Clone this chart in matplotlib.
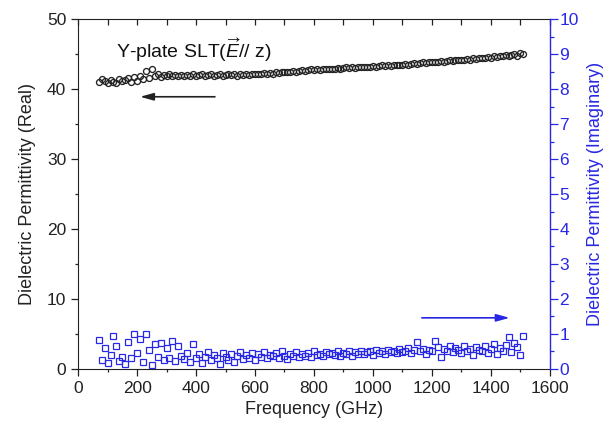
import matplotlib
matplotlib.use("Agg")
import matplotlib.pyplot as plt
from matplotlib.ticker import MultipleLocator

plt.rcParams["font.family"] = ["Liberation Sans", "DejaVu Sans"]
plt.rcParams["mathtext.fontset"] = "custom"
plt.rcParams["mathtext.rm"] = "Liberation Sans"
plt.rcParams["mathtext.it"] = "Liberation Sans:italic"

BLUE = "#2828e4"
DARK = "#222222"

# frequency grid (GHz)
freq = [70, 80, 90, 100, 110, 120, 130, 140, 150, 160,
        170, 180, 190, 200, 210, 220, 230, 240, 250, 260,
        270, 280, 290, 300, 310, 320, 330, 340, 350, 360,
        370, 380, 390, 400, 410, 420, 430, 440, 450, 460,
        470, 480, 490, 500, 510, 520, 530, 540, 550, 560,
        570, 580, 590, 600, 610, 620, 630, 640, 650, 660,
        670, 680, 690, 700, 710, 720, 730, 740, 750, 760,
        770, 780, 790, 800, 810, 820, 830, 840, 850, 860,
        870, 880, 890, 900, 910, 920, 930, 940, 950, 960,
        970, 980, 990, 1000, 1010, 1020, 1030, 1040, 1050, 1060,
        1070, 1080, 1090, 1100, 1110, 1120, 1130, 1140, 1150, 1160,
        1170, 1180, 1190, 1200, 1210, 1220, 1230, 1240, 1250, 1260,
        1270, 1280, 1290, 1300, 1310, 1320, 1330, 1340, 1350, 1360,
        1370, 1380, 1390, 1400, 1410, 1420, 1430, 1440, 1450, 1460,
        1470, 1480, 1490, 1500, 1510]

# real part (left axis)
eps_real = [41.0, 41.5, 41.1, 40.8, 41.3, 41.0, 40.9, 41.4, 41.1, 41.3,
            41.6, 41.0, 41.7, 41.2, 41.9, 41.4, 42.6, 41.6, 42.8, 41.8,
            42.2, 41.7, 42.0, 41.8, 42.1, 41.9, 42.0, 41.8, 42.0, 41.9,
            42.0, 41.9, 42.1, 41.9, 42.0, 42.1, 41.9, 42.0, 42.1, 41.9,
            42.0, 42.1, 41.9, 42.0, 42.1, 42.0, 42.1, 41.9, 42.1, 42.0,
            42.1, 42.0, 42.2, 42.1, 42.2, 42.1, 42.3, 42.2, 42.3, 42.2,
            42.4, 42.3, 42.4, 42.5, 42.4, 42.5, 42.6, 42.5, 42.6, 42.7,
            42.6, 42.7, 42.8, 42.7, 42.8, 42.7, 42.9, 42.8, 42.9, 42.8,
            42.9, 43.0, 42.9, 43.0, 43.1, 43.0, 43.1, 43.0, 43.2, 43.1,
            43.2, 43.1, 43.2, 43.3, 43.2, 43.3, 43.4, 43.3, 43.4, 43.3,
            43.4, 43.5, 43.4, 43.5, 43.6, 43.5, 43.6, 43.7, 43.6, 43.7,
            43.8, 43.7, 43.8, 43.9, 43.8, 43.9, 44.0, 43.9, 44.0, 44.1,
            44.0, 44.1, 44.2, 44.1, 44.2, 44.3, 44.2, 44.4, 44.3, 44.4,
            44.5, 44.4, 44.6, 44.5, 44.7, 44.6, 44.8, 44.7, 44.9, 44.8,
            44.9, 45.0, 44.8, 45.1, 45.0]

# imaginary part (right axis)
eps_imag = [0.83, 0.26, 0.60, 0.17, 0.40, 0.94, 0.66, 0.22, 0.35, 0.14,
            0.78, 0.30, 1.00, 0.45, 0.85, 0.20, 1.00, 0.55, 0.12, 0.70,
            0.35, 0.75, 0.25, 0.60, 0.30, 0.80, 0.22, 0.65, 0.38, 0.28,
            0.45, 0.20, 0.70, 0.30, 0.42, 0.18, 0.35, 0.48, 0.25, 0.40,
            0.30, 0.15, 0.45, 0.35, 0.25, 0.42, 0.20, 0.38, 0.48, 0.28,
            0.40, 0.30, 0.45, 0.25, 0.42, 0.35, 0.48, 0.30, 0.40, 0.36,
            0.45, 0.32, 0.50, 0.38, 0.28, 0.44, 0.36, 0.48, 0.33, 0.42,
            0.38, 0.46, 0.34, 0.50, 0.40, 0.44, 0.36, 0.48, 0.42, 0.45,
            0.40, 0.50, 0.38, 0.46, 0.42, 0.52, 0.36, 0.47, 0.44, 0.50,
            0.42, 0.48, 0.52, 0.40, 0.55, 0.46, 0.50, 0.44, 0.53, 0.48,
            0.50, 0.45, 0.56, 0.48, 0.52, 0.60, 0.46, 0.55, 0.78, 0.50,
            0.58, 0.44, 0.55, 0.50, 0.80, 0.62, 0.35, 0.56, 0.52, 0.66,
            0.48, 0.60, 0.55, 0.45, 0.65, 0.52, 0.58, 0.40, 0.62, 0.55,
            0.50, 0.66, 0.45, 0.58, 0.70, 0.42, 0.60, 0.52, 0.68, 0.90,
            0.48, 0.75, 0.62, 0.40, 0.95]

fig = plt.figure(figsize=(6.15, 4.25), dpi=100)
ax = fig.add_axes([0.127, 0.132, 0.767, 0.823])
ax2 = ax.twinx()

ax.plot(freq, eps_real, linestyle="none", marker="o", markersize=4.3,
        markerfacecolor="none", markeredgecolor=DARK, markeredgewidth=0.95)
ax2.plot(freq, eps_imag, linestyle="none", marker="s", markersize=4.3,
         markerfacecolor="none", markeredgecolor=BLUE, markeredgewidth=0.9)

ax.set_xlim(0, 1600)
ax.set_ylim(0, 50)
ax2.set_ylim(0, 10)

ax.xaxis.set_major_locator(MultipleLocator(200))
ax.xaxis.set_minor_locator(MultipleLocator(100))
ax.yaxis.set_major_locator(MultipleLocator(10))
ax.yaxis.set_minor_locator(MultipleLocator(5))
ax2.yaxis.set_major_locator(MultipleLocator(1))
ax2.yaxis.set_minor_locator(MultipleLocator(0.5))

ax.tick_params(which="both", direction="out", labelsize=12.5, colors=DARK, width=0.9)
ax.tick_params(which="major", length=5)
ax.tick_params(which="minor", length=2.5)
ax2.tick_params(which="both", direction="out", labelsize=12.5, colors=BLUE, width=0.9)
ax2.tick_params(which="major", length=6, pad=1)
ax2.tick_params(which="minor", length=3)

# top axis: inward ticks every 100 GHz
top = ax.secondary_xaxis("top")
top.xaxis.set_major_locator(MultipleLocator(100))
top.tick_params(direction="in", length=4.5, width=0.9, labeltop=False, colors=DARK)
top.spines["top"].set_color(DARK)

for s in ["left", "bottom"]:
    ax.spines[s].set_color(DARK)
ax.spines["right"].set_visible(False)
ax.spines["top"].set_visible(False)
for s in ["left", "bottom", "top"]:
    ax2.spines[s].set_visible(False)
ax2.spines["right"].set_color(BLUE)
ax2.spines["right"].set_linewidth(1.0)

ax.set_xlabel("Frequency (GHz)", fontsize=13, color=DARK, labelpad=4)
ax.set_ylabel("Dielectric Permittivity (Real)", fontsize=13, color=DARK, labelpad=8)
ax2.set_ylabel("Dielectric Permittivity (Imaginary)", fontsize=13, color=BLUE, labelpad=6)

ax.text(130, 45.6, r"Y-plate SLT($\overrightarrow{E}$// z)", fontsize=14,
        color="#111111", va="center", ha="left")

ax.annotate("", xy=(210, 38.9), xytext=(464, 38.9),
            arrowprops=dict(arrowstyle="-|>,head_length=0.8,head_width=0.22",
                            color=DARK, lw=1.2, shrinkA=0, shrinkB=0))
ax2.annotate("", xy=(1464, 1.46), xytext=(1166, 1.46),
             arrowprops=dict(arrowstyle="-|>,head_length=0.8,head_width=0.22",
                             color=BLUE, lw=1.2, shrinkA=0, shrinkB=0))

fig.savefig("out.png", dpi=100)
